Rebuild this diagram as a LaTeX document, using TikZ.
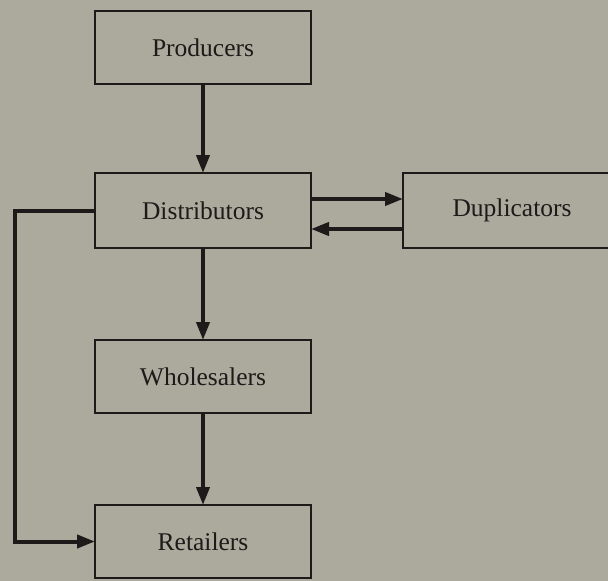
\documentclass[tikz,border=0pt]{standalone}
\usepackage{fontspec}
\setmainfont{Liberation Serif}
\usetikzlibrary{positioning}
\usetikzlibrary{arrows.meta}
\definecolor{paper}{RGB}{171,170,157}
\definecolor{ink}{RGB}{30,26,26}

\begin{document}
\begin{tikzpicture}[
  box/.style={draw=ink, line width=2pt, rectangle, outer sep=0pt, minimum width=216pt, minimum height=73pt, text=ink, font=\fontsize{25.5}{30}\selectfont},
  flow/.style={draw=ink, line width=4pt, -{Triangle[length=18pt,width=13pt]}}
]
  \fill[paper] (0,0) rectangle (608pt,-581pt);
  \useasboundingbox (0,0) rectangle (608pt,-581pt);
  \clip (0,0) rectangle (608pt,-581pt);

  \node[box] (prod) at (203pt,-47.5pt) {Producers};
  \node[box, below=89pt of prod, minimum height=75pt] (dist) {Distributors};
  \node[box, right=92pt of dist, minimum height=75pt, minimum width=218pt] (dup) {Duplicators};
  \node[box, below=92pt of dist] (whole) {Wholesalers};
  \node[box, below=92pt of whole] (ret) {Retailers};

  \draw[flow] (prod.south) -- (dist.north);
  \draw[flow] ([yshift=11.5pt]dist.east) -- ([yshift=11.5pt]dup.west);
  \draw[flow] ([yshift=-18.5pt]dup.west) -- ([yshift=-18.5pt]dist.east);
  \draw[flow] (dist.south) -- (whole.north);
  \draw[flow] (whole.south) -- (ret.north);
  \draw[flow] (dist.west) -- ++(-80pt,0) |- (ret.west);
\end{tikzpicture}
\end{document}
